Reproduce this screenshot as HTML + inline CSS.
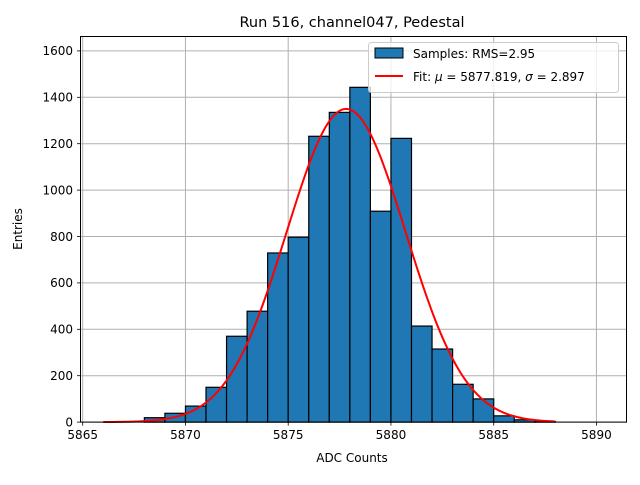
<!DOCTYPE html>
<html><head><meta charset="utf-8"><style>
body{margin:0;background:#fff}
svg text{font-family:"DejaVu Sans","Liberation Sans",sans-serif}
</style></head><body>
<svg id="chart" width="640" height="480" xmlns="http://www.w3.org/2000/svg">
<rect width="640" height="480" fill="#fff"/>
<g id="grid"></g>
<g id="bars"></g>
<path id="fit" fill="none" stroke="#ff0000" stroke-width="2"/>
<rect x="80.5" y="36.5" width="546" height="385.6" fill="none" stroke="#000" stroke-width="1"/>
<g id="ticks"></g>
<text x="352" y="27" font-size="14.5" text-anchor="middle">Run 516, channel047, Pedestal</text>
<text x="352" y="462" font-size="12" text-anchor="middle">ADC Counts</text>
<text x="0" y="0" font-size="12" text-anchor="middle" transform="translate(22,229) rotate(-90)">Entries</text>
<g>
<rect x="368.5" y="42.5" width="250" height="50" rx="3" fill="#fff" fill-opacity="0.8" stroke="#ccc"/>
<rect x="375" y="48" width="28" height="10" fill="#1f77b4" stroke="#000"/>
<text x="413" y="58" font-size="12">Samples: RMS=2.95</text>
<line x1="375" y1="76" x2="403" y2="76" stroke="#ff0000" stroke-width="2"/>
<text x="413" y="81" font-size="12">Fit: <tspan font-style="italic">μ</tspan> = 5877.819, <tspan font-style="italic">σ</tspan> = 2.897</text>
</g>
</svg>
<script>
const binStarts=[5868,5869,5870,5871,5872,5873,5874,5875,5876,5877,5878,5879,5880,5881,5882,5883,5884,5885,5886,5887];
const counts=[19,38,69,150,370,478,729,797,1232,1335,1443,909,1223,414,315,163,100,27,10,2];
const xTicks=[5865,5870,5875,5880,5885,5890];
const yTicks=[0,200,400,600,800,1000,1200,1400,1600];
const fitMu=5877.819, fitSigma=2.897, fitAmp=1350, fitMin=5866, fitMax=5888;
const NS="http://www.w3.org/2000/svg";
const X=v=>82.7+(v-5865)*20.55;
const Y=v=>422.1-v*0.232;
function mk(tag,attrs,parent){const e=document.createElementNS(NS,tag);for(const k in attrs)e.setAttribute(k,attrs[k]);parent.appendChild(e);return e;}
const grid=document.getElementById('grid'),bars=document.getElementById('bars'),ticks=document.getElementById('ticks');
xTicks.forEach(t=>{
 const l=mk('line',{x1:X(t),x2:X(t),y1:36.5,y2:422.1,stroke:'#b0b0b0','stroke-width':1},grid);
 
 
 mk('line',{x1:X(t),x2:X(t),y1:422.1,y2:425.6,stroke:'#000','stroke-width':0.8},ticks);
 const tx=mk('text',{x:X(t),y:439,'font-size':12,'text-anchor':'middle'},ticks);
 tx.textContent=t;
 
 
});
yTicks.forEach(t=>{
 const l=mk('line',{x1:80.5,x2:626.5,y1:Y(t),y2:Y(t),stroke:'#b0b0b0','stroke-width':1},grid);
 
 
 mk('line',{x1:77,x2:80.5,y1:Y(t),y2:Y(t),stroke:'#000','stroke-width':0.8},ticks);
 const tx=mk('text',{x:73,y:Y(t)+4.3,'font-size':12,'text-anchor':'end'},ticks);
 tx.textContent=t;
 
 
});
binStarts.forEach((b,i)=>{
 const r=mk('rect',{x:X(b),y:Y(counts[i]),width:X(b+1)-X(b),height:Y(0)-Y(counts[i]),fill:'#1f77b4',stroke:'#000','stroke-width':1.2},bars);
 
 
});
let d='';
for(let i=0;i<=200;i++){const x=fitMin+(fitMax-fitMin)*i/200;const y=fitAmp*Math.exp(-0.5*((x-fitMu)/fitSigma)**2);d+=(i?'L':'M')+X(x).toFixed(2)+','+Y(y).toFixed(2);}
document.getElementById('fit').setAttribute('d',d);
</script>
</body></html>
